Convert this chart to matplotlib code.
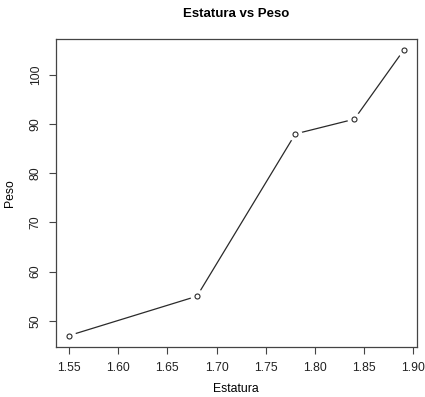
import matplotlib
matplotlib.use("Agg")
import matplotlib.pyplot as plt

plt.rcParams['font.family'] = ['Liberation Sans', 'DejaVu Sans']

estatura = [1.55, 1.68, 1.78, 1.84, 1.89]
peso = [47, 55, 88, 91, 105]
xticks = [1.55, 1.60, 1.65, 1.70, 1.75, 1.80, 1.85, 1.90]
yticks = [50, 60, 70, 80, 90, 100]

fig = plt.figure(figsize=(4.25, 3.97), dpi=100)
ax = fig.add_axes([0.131, 0.126, 0.850, 0.776])

# lineas y puntos con hueco alrededor de cada punto (estilo type="b")
ax.plot(estatura, peso, color='#2a2a2a', lw=0.9, zorder=1)
ax.plot(estatura, peso, ls='none', marker='o', ms=9, mfc='white', mec='white', zorder=2)
ax.plot(estatura, peso, ls='none', marker='o', ms=3.6, mfc='white', mec='#2a2a2a', mew=0.8, zorder=3)

rng_x = max(estatura) - min(estatura)
rng_y = max(peso) - min(peso)
ax.set_xlim(min(estatura) - 0.04 * rng_x, max(estatura) + 0.04 * rng_x)
ax.set_ylim(min(peso) - 0.04 * rng_y, max(peso) + 0.04 * rng_y)

ax.set_xticks(xticks)
ax.set_xticklabels(['%.2f' % t for t in xticks])
ax.set_yticks(yticks)
ax.set_yticklabels([str(t) for t in yticks], rotation=90, va='center')

for s in ax.spines.values():
    s.set_color('#444444')
    s.set_linewidth(0.9)
ax.tick_params(colors='#444444', labelcolor='#222222', labelsize=8.8, length=5, width=0.8)
ax.tick_params(axis='x', pad=6)
ax.tick_params(axis='y', pad=5)

ax.set_title('Estatura vs Peso', fontsize=9.5, fontweight='bold', pad=16)
ax.set_xlabel('Estatura', fontsize=8.8, labelpad=6)
ax.set_ylabel('Peso', fontsize=8.8, labelpad=10)

fig.savefig('out.png', dpi=100)
